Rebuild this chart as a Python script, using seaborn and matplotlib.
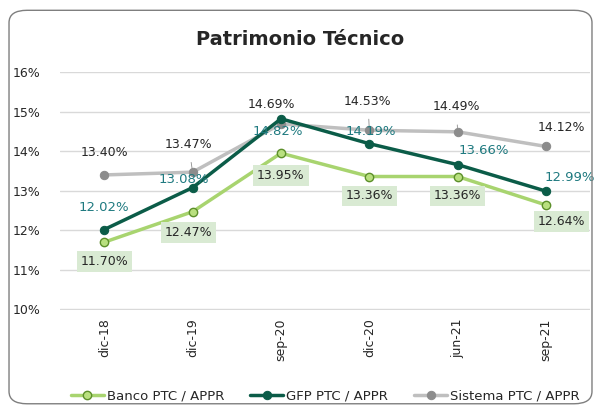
import pandas as pd
import matplotlib.pyplot as plt
import seaborn as sns
from matplotlib.patches import FancyBboxPatch
from matplotlib.ticker import FuncFormatter

periodos = ['dic-18', 'dic-19', 'sep-20', 'dic-20', 'jun-21', 'sep-21']
banco = [11.70, 12.47, 13.95, 13.36, 13.36, 12.64]
gfp = [12.02, 13.08, 14.82, 14.19, 13.66, 12.99]
sistema = [13.40, 13.47, 14.69, 14.53, 14.49, 14.12]

# desplazamiento de etiquetas (puntos)
off_banco = [(0, -14), (-3, -15), (0, -16), (0, -14), (0, -14), (11, -12)]
off_gfp = [(0, 16), (-6, 6), (-2, -9), (1, 9), (19, 10), (17, 10)]
off_sistema = [(0, 16), (-3, 20), (-7, 14), (-1, 21), (-1, 18), (11, 14)]
guia_sistema = [False, True, False, True, True, False]

df = pd.DataFrame({'periodo': periodos * 3,
                   'valor': banco + gfp + sistema,
                   'serie': ['Banco PTC / APPR'] * 6 + ['GFP PTC / APPR'] * 6 + ['Sistema PTC / APPR'] * 6})

sns.set_style('white')
plt.rcParams['font.family'] = ['DejaVu Sans']

fig = plt.figure(figsize=(6.01, 4.12), dpi=100)
ax = fig.add_axes([0.10, 0.248, 0.882, 0.578])

borde = FancyBboxPatch((0.015, 0.02), 0.97, 0.955, boxstyle='round,pad=0,rounding_size=0.03',
                       transform=fig.transFigure, fill=False, edgecolor='#7f7f7f', linewidth=1.0)
fig.patches.append(borde)

col_banco = '#a8d46f'
col_gfp = '#0b5c48'
col_sis = '#bfbfbf'

sns.lineplot(data=df[df.serie == 'Sistema PTC / APPR'], x='periodo', y='valor', sort=False, ax=ax,
             color=col_sis, linewidth=2.5, marker='o', markersize=6, markerfacecolor='#8c8c8c',
             markeredgecolor='#8c8c8c', label='Sistema PTC / APPR')
sns.lineplot(data=df[df.serie == 'GFP PTC / APPR'], x='periodo', y='valor', sort=False, ax=ax,
             color=col_gfp, linewidth=2.5, marker='o', markersize=6, markerfacecolor=col_gfp,
             markeredgecolor=col_gfp, label='GFP PTC / APPR')
sns.lineplot(data=df[df.serie == 'Banco PTC / APPR'], x='periodo', y='valor', sort=False, ax=ax,
             color=col_banco, linewidth=2.5, marker='o', markersize=6, markerfacecolor='#b9e07f',
             markeredgecolor='#5c8f2a', markeredgewidth=1, label='Banco PTC / APPR')

for i, v in enumerate(sistema):
    flecha = dict(arrowstyle='-', color='#8c8c8c', lw=0.6, shrinkA=6, shrinkB=3) if guia_sistema[i] else None
    ax.annotate(f'{v:.2f}%', (i, v), xytext=off_sistema[i], textcoords='offset points',
                ha='center', va='center', fontsize=9, color='#262626', arrowprops=flecha)
for i, v in enumerate(gfp):
    ax.annotate(f'{v:.2f}%', (i, v), xytext=off_gfp[i], textcoords='offset points',
                ha='center', va='center', fontsize=9.5, color='#1f7a80')
for i, v in enumerate(banco):
    ax.annotate(f'{v:.2f}%', (i, v), xytext=off_banco[i], textcoords='offset points',
                ha='center', va='center', fontsize=9, color='#262626',
                bbox=dict(boxstyle='square,pad=0.3', facecolor='#d9ead3', edgecolor='none'))

ax.set_ylim(9.99, 16.01)
ax.set_xlim(-0.5, 5.5)
ax.set_yticks(range(10, 17))
ax.yaxis.set_major_formatter(FuncFormatter(lambda y, p: f'{y:.0f}%'))
ax.grid(axis='y', color='#d9d9d9', linewidth=1)
ax.set_axisbelow(True)
ax.tick_params(axis='x', rotation=90, labelsize=9, length=0, pad=6)
ax.tick_params(axis='y', labelsize=9, length=0, pad=14)
for s in ax.spines.values():
    s.set_visible(False)
ax.set_xlabel('')
ax.set_ylabel('')

h, l = ax.get_legend_handles_labels()
order = [2, 1, 0]
ax.legend([h[i] for i in order], [l[i] for i in order], loc='upper center',
          bbox_to_anchor=(0.5, -0.285), ncol=3, frameon=False, fontsize=9.5,
          handlelength=2.5, columnspacing=2.0, handletextpad=0.2)

fig.text(0.5, 0.905, 'Patrimonio Técnico', ha='center', va='center', fontsize=14, fontweight='bold')

fig.savefig('out.png', dpi=100)
